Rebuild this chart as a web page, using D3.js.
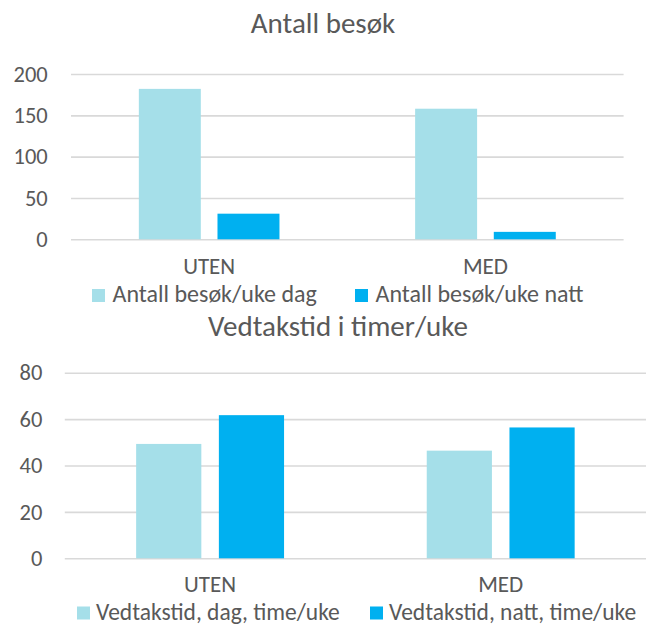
<!DOCTYPE html>
<html>
<head>
<meta charset="utf-8">
<script src="https://cdn.jsdelivr.net/npm/d3@7"></script>
<style>
  body { margin: 0; background: #fff; }
  svg text { font-family: Calibri, Carlito, Lato, sans-serif; fill: #595959; }
</style>
</head>
<body>
<div id="chart"></div>
<script>
// categories + series
var categories = ["UTEN", "MED"];

var besokSeries = ["Antall besøk/uke dag", "Antall besøk/uke natt"];
var besokDag = [182, 158];
var besokNatt = [31, 9];
var besokTicks = [0, 50, 100, 150, 200];

var vedtakSeries = ["Vedtakstid, dag, time/uke", "Vedtakstid, natt, time/uke"];
var vedtakDag = [49.3, 46.4];
var vedtakNatt = [61.7, 56.4];
var vedtakTicks = [0, 20, 40, 60, 80];

var colors = ["#a5dfe9", "#00b0f0"];

var svg = d3.select("#chart").append("svg")
    .attr("width", 646)
    .attr("height", 625);

function drawChart(cfg) {
    var g = svg.append("g");

    var x0 = d3.scaleBand()
        .domain(categories)
        .range([cfg.left, cfg.right])
        .paddingInner(0.491)
        .paddingOuter(0.2455);

    var x1 = d3.scaleBand()
        .domain([0, 1])
        .range([0, x0.bandwidth()])
        .paddingInner(0.212);

    var y = d3.scaleLinear()
        .domain([0, cfg.ticks[cfg.ticks.length - 1]])
        .range([cfg.bottom, cfg.top]);

    // title
    g.append("text")
        .attr("x", cfg.titleX)
        .attr("y", cfg.titleY)
        .attr("text-anchor", "middle")
        .style("font-size", "29px")
        .text(cfg.title);

    // gridlines
    var yAxis = d3.axisLeft(y)
        .tickValues(cfg.ticks)
        .tickSize(-(cfg.right - cfg.left))
        .tickPadding(cfg.left - cfg.labelRight)
        .tickFormat(d3.format("d"));

    var ax = g.append("g")
        .attr("transform", "translate(" + cfg.left + ",0)")
        .call(yAxis);
    ax.select(".domain").remove();
    ax.selectAll(".tick line")
        .attr("stroke", "#d9d9d9")
        .attr("stroke-width", 1.6);
    ax.selectAll(".tick text")
        .attr("fill", "#595959")
        .style("font-family", "Calibri, Carlito, Lato, sans-serif")
        .style("font-size", "22.5px");

    var rows = categories.map(function(c, i) {
        return {cat: c, vals: [cfg.dag[i], cfg.natt[i]]};
    });

    var groups = g.append("g").selectAll("g")
        .data(rows)
        .enter().append("g")
        .attr("transform", function(d) { return "translate(" + x0(d.cat) + ",0)"; });

    groups.selectAll("rect")
        .data(function(d) { return d.vals.map(function(v, k) { return {k: k, v: v}; }); })
        .enter().append("rect")
        .attr("x", function(d) { return x1(d.k); })
        .attr("width", x1.bandwidth())
        .attr("y", function(d) { return y(d.v); })
        .attr("height", function(d) { return y(0) - y(d.v); })
        .attr("fill", function(d) { return colors[d.k]; });

    // category labels
    g.append("g").selectAll("text")
        .data(categories)
        .enter().append("text")
        .attr("x", function(d) { return x0(d) + x0.bandwidth() / 2; })
        .attr("y", cfg.catY)
        .attr("text-anchor", "middle")
        .style("font-size", "23px")
        .text(function(d) { return d; });

    // legend
    var leg = g.append("g").selectAll("g")
        .data(cfg.series)
        .enter().append("g")
        .attr("transform", function(d, i) { return "translate(" + cfg.legendX[i] + "," + cfg.legendY + ")"; });
    leg.append("rect")
        .attr("x", 0)
        .attr("y", -13)
        .attr("width", 13)
        .attr("height", 13)
        .attr("fill", function(d, i) { return colors[i]; });
    leg.append("text")
        .attr("x", cfg.legendGap)
        .attr("y", 0)
        .style("font-size", cfg.legendSize)
        .text(function(d) { return d; });
}

drawChart({
    title: "Antall besøk",
    titleX: 323, titleY: 33,
    left: 71, right: 623.6, top: 74, bottom: 239.3,
    labelRight: 47.7,
    ticks: besokTicks,
    dag: besokDag, natt: besokNatt,
    series: besokSeries,
    catY: 273.5,
    legendX: [92, 355], legendY: 302, legendGap: 20.5, legendSize: "24px"
});

drawChart({
    title: "Vedtakstid i timer/uke",
    titleX: 338, titleY: 336,
    left: 64.8, right: 646, top: 372.7, bottom: 558.3,
    labelRight: 42.3,
    ticks: vedtakTicks,
    dag: vedtakDag, natt: vedtakNatt,
    series: vedtakSeries,
    catY: 591.5,
    legendX: [77, 370], legendY: 619.5, legendGap: 19, legendSize: "23.5px"
});
</script>
</body>
</html>
